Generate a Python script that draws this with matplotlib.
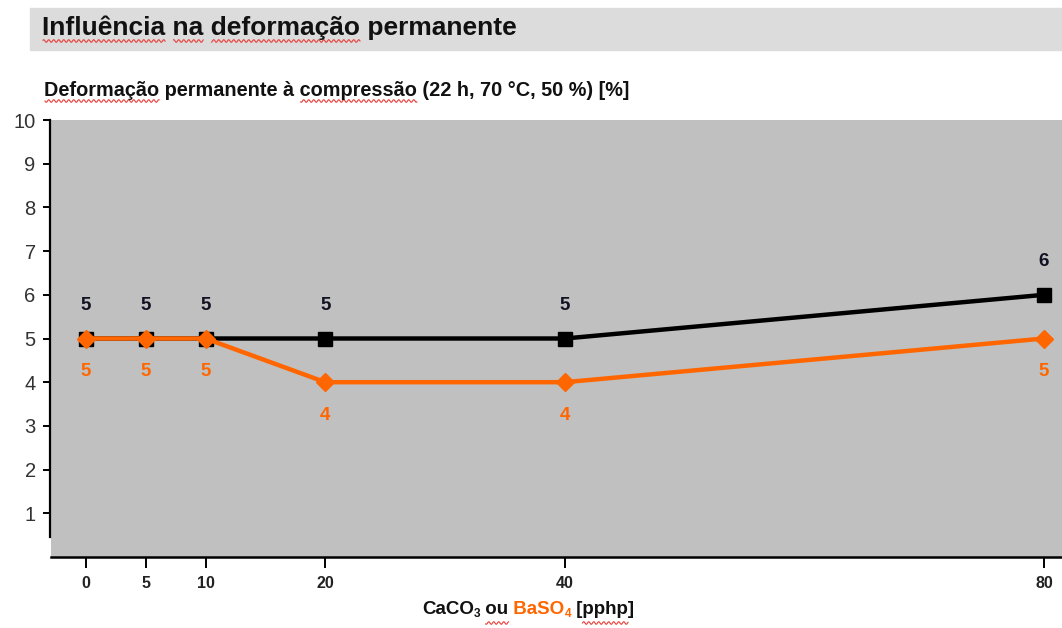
import numpy as np
import matplotlib
matplotlib.use("Agg")
import matplotlib.pyplot as plt

# data
x_pphp = [0, 5, 10, 20, 40, 80]
caco3 = [5, 5, 5, 5, 5, 6]
baso4 = [5, 5, 5, 4, 4, 5]
y_ticks = [1, 2, 3, 4, 5, 6, 7, 8, 9, 10]

title = "Influência na deformação permanente"
subtitle = "Deformação permanente à compressão (22 h, 70 °C, 50 %) [%]"

W, H = 1062, 628
ORANGE = "#ff6600"
GRAY = "#c0c0c0"

plt.rcParams["font.family"] = ["Liberation Sans", "DejaVu Sans"]

fig = plt.figure(figsize=(W / 100, H / 100), dpi=100)
r = fig.canvas.get_renderer()


def fx(px):
    return px / W


def fy(py):
    return 1 - py / H


def text_width(s, fs):
    t = fig.text(0, 0, s, fontsize=fs, fontweight="bold")
    w = t.get_window_extent(r).width
    t.remove()
    return w


def squiggle(x0, x1, y):
    # red spell-check wave under a word
    xs = np.linspace(x0, x1, int((x1 - x0) * 2))
    ys = y + 1.3 * np.sin(xs * np.pi / 2.5)
    fig.add_artist(plt.Line2D(fx(xs), fy(ys), color="#e8403a", lw=0.8,
                              transform=fig.transFigure))


def underline_words(s, words, x0, y, fs):
    for w in words:
        i = s.index(w)
        a = x0 + text_width(s[:i], fs) if i else x0
        squiggle(a + 1, a + text_width(w, fs), y)


# title banner
fig.add_artist(plt.Rectangle((fx(30), fy(50)), fx(W - 30), 42 / H,
                             transform=fig.transFigure, color="#dcdcdc", zorder=0))
fig.text(fx(42), fy(28), title, fontsize=19, fontweight="bold",
         va="center", ha="left", color="#111111")
underline_words(title, ["Influência", "na", "deformação"], 42, 41, 19)

fig.text(fx(44), fy(90), subtitle, fontsize=14.3, fontweight="bold",
         va="center", ha="left", color="#111111")
underline_words(subtitle, ["Deformação", "compressão"], 44, 101, 14.3)

ax = fig.add_axes([fx(51), fy(557), fx(W - 51), (557 - 120) / H])
ax.set_facecolor(GRAY)
ax.set_xlim(-2.9, 81.5)
ax.set_ylim(0, 10)

ax.plot(x_pphp, caco3, color="black", lw=3.2, marker="s", ms=10.5, zorder=3)
ax.plot(x_pphp, baso4, color=ORANGE, lw=3.2, marker="D", ms=9.5, zorder=4)

for xv, yv in zip(x_pphp, caco3):
    ax.annotate(str(yv), (xv, yv), xytext=(0, 24), textcoords="offset points",
                ha="center", va="center", fontsize=13.5, fontweight="bold", color="#111122")
for xv, yv in zip(x_pphp, baso4):
    ax.annotate(str(yv), (xv, yv), xytext=(0, -24), textcoords="offset points",
                ha="center", va="center", fontsize=13.5, fontweight="bold", color=ORANGE)

for s in ["top", "right"]:
    ax.spines[s].set_visible(False)
ax.spines["left"].set_bounds(0.45, 10)
ax.spines["left"].set_linewidth(1.6)
ax.spines["bottom"].set_linewidth(1.8)
ax.spines["left"].set_position(("outward", 1))

ax.set_yticks(y_ticks)
ax.set_yticklabels([str(v) for v in y_ticks], fontsize=14.5, color="#333333")
ax.tick_params(axis="y", direction="out", length=5, width=1.4, pad=5)

ax.set_xticks(x_pphp)
ax.set_xticklabels([str(v) for v in x_pphp], fontsize=11.5, fontweight="bold",
                   color="#222222")
ax.tick_params(axis="x", direction="out", length=8, width=1.4, pad=6)

# x axis title with coloured BaSO4
pieces = [("CaCO", "#111111", 13.5, 0), ("3", "#111111", 8.5, -3),
          (" ou", "#111111", 13.5, 0), (" BaSO", ORANGE, 13.5, 0),
          ("4", ORANGE, 8.5, -3), (" [pphp]", "#111111", 13.5, 0)]
cur = 422
spans = {}
for txt, col, fs, dy in pieces:
    t = fig.text(fx(cur), fy(614 - dy), txt, fontsize=fs, fontweight="bold",
                 color=col, ha="left", va="baseline")
    w = t.get_window_extent(r).width
    spans[txt] = (cur, cur + w)
    cur += w
a, b = spans[" ou"]
squiggle(a + text_width(" ", 13.5), b, 623)
a, b = spans[" [pphp]"]
squiggle(a + text_width(" [", 13.5), b - text_width("]", 13.5), 623)

fig.savefig("out.png", dpi=100)
